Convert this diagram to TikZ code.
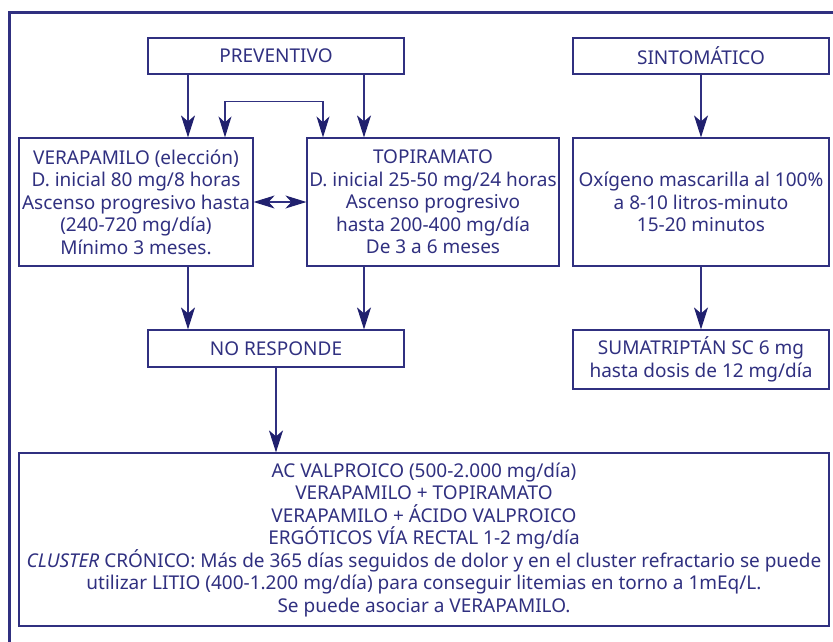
\documentclass[tikz,border=0pt]{standalone}
\usepackage{fontspec}
\setmainfont{Noto Sans}
\usetikzlibrary{arrows.meta,calc}
\definecolor{navy}{RGB}{48,48,128}
\definecolor{headnavy}{RGB}{32,32,110}
\tikzset{
  box/.style={draw=navy,line width=1.2pt,text=navy,align=center,inner sep=2pt,
    font=\fontsize{19}{22.5}\selectfont},
  arr/.style={draw=navy,line width=1.2pt,-{Stealth[length=22pt,width=14pt,inset=6pt,color=headnavy]}},
  darr/.style={draw=navy,line width=1.2pt,{Stealth[length=21pt,width=13pt,inset=6pt,color=headnavy]}-{Stealth[length=21pt,width=13pt,inset=6pt,color=headnavy]}}
}
\begin{document}
\begin{tikzpicture}[x=1pt,y=-1pt]
\useasboundingbox (0,0) rectangle (833,641);
\fill[white] (0,0) rectangle (833,641);
\draw[navy,line width=2.6pt] (9.3,660) -- (9.3,12.3) -- (850,12.3);

\node[box,minimum width=256pt,minimum height=36pt] (prev) at (276,56) {PREVENTIVO};
\node[box,minimum width=256pt,minimum height=36pt] (sint) at (701,56) {SINTOMÁTICO};
\node[box,minimum width=234pt,minimum height=128pt] (vera) at (136,202)
  {VERAPAMILO (elección)\\D. inicial 80 mg/8 horas\\Ascenso progresivo hasta\\(240-720 mg/día)\\Mínimo 3 meses.};
\node[box,minimum width=252pt,minimum height=128pt] (topi) at (433,202)
  {TOPIRAMATO\\D. inicial 25-50 mg/24 horas\\Ascenso progresivo\\hasta 200-400 mg/día\\De 3 a 6 meses};
\node[box,minimum width=256pt,minimum height=128pt] (oxi) at (701,202)
  {Oxígeno mascarilla al 100\%\\a 8-10 litros-minuto\\15-20 minutos};
\node[box,minimum width=256pt,minimum height=37pt] (nores) at (276,348.5) {NO RESPONDE};
\node[box,minimum width=256pt,minimum height=59pt] (suma) at (701,359.5)
  {SUMATRIPTÁN SC 6 mg\\hasta dosis de 12 mg/día};
\node[box,minimum width=810pt,minimum height=173pt] (final) at (424,539.5)
  {AC VALPROICO (500-2.000 mg/día)\\VERAPAMILO + TOPIRAMATO\\VERAPAMILO + ÁCIDO VALPROICO\\ERGÓTICOS VÍA RECTAL 1-2 mg/día\\
   \textit{CLUSTER} CRÓNICO: Más de 365 días seguidos de dolor y en el cluster refractario se puede\\
   utilizar LITIO (400-1.200 mg/día) para conseguir litemias en torno a 1mEq/L.\\
   Se puede asociar a VERAPAMILO.};

\coordinate (cL) at (188,0);
\coordinate (cR) at (364,0);
\coordinate (cB1) at (225,0);
\coordinate (cB2) at (323,0);

\draw[arr] (prev.south -| cL) -- (vera.north -| cL);
\draw[arr] (prev.south -| cR) -- (topi.north -| cR);
\draw[darr] (vera.north -| cB1) -- ++(0,-36) -| (topi.north -| cB2);
\draw[darr] (vera.east) -- (topi.west);
\draw[arr] (sint.south) -- (oxi.north);
\draw[arr] (oxi.south) -- (suma.north);
\draw[arr] (vera.south -| cL) -- (nores.north -| cL);
\draw[arr] (topi.south -| cR) -- (nores.north -| cR);
\draw[arr] (nores.south) -- (final.north -| nores.south);
\end{tikzpicture}
\end{document}
